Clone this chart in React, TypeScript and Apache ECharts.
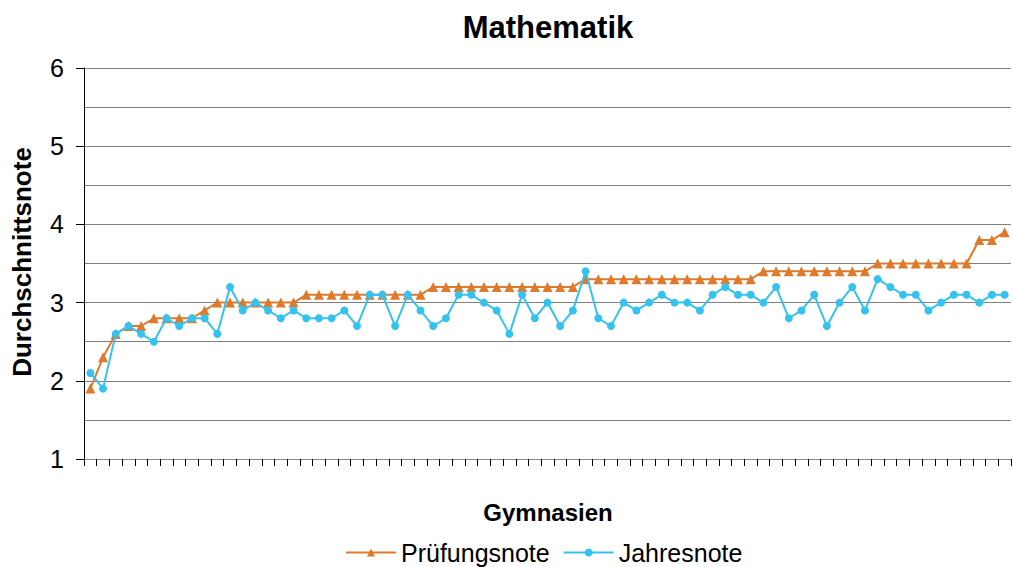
import React, { useEffect, useRef } from "react";
import * as echarts from "echarts";

const categories: string[] = Array.from({ length: 73 }, (_, i) => `G${i + 1}`);

const pruefungsnote: number[] = [
  1.9, 2.3, 2.6, 2.7, 2.7, 2.8, 2.8, 2.8, 2.8, 2.9, 3.0, 3.0, 3.0, 3.0, 3.0, 3.0, 3.0, 3.1, 3.1,
  3.1, 3.1, 3.1, 3.1, 3.1, 3.1, 3.1, 3.1,
  3.2, 3.2, 3.2, 3.2, 3.2, 3.2, 3.2, 3.2, 3.2, 3.2, 3.2, 3.2,
  3.3, 3.3, 3.3, 3.3, 3.3, 3.3, 3.3, 3.3, 3.3, 3.3, 3.3, 3.3, 3.3, 3.3,
  3.4, 3.4, 3.4, 3.4, 3.4, 3.4, 3.4, 3.4, 3.4,
  3.5, 3.5, 3.5, 3.5, 3.5, 3.5, 3.5, 3.5,
  3.8, 3.8, 3.9,
];

const jahresnote: number[] = [
  2.1, 1.9, 2.6, 2.7, 2.6, 2.5, 2.8, 2.7, 2.8, 2.8, 2.6, 3.2, 2.9, 3.0, 2.9, 2.8, 2.9, 2.8, 2.8,
  2.8, 2.9, 2.7, 3.1, 3.1, 2.7, 3.1, 2.9, 2.7, 2.8, 3.1, 3.1, 3.0, 2.9, 2.6, 3.1, 2.8,
  3.0, 2.7, 2.9, 3.4, 2.8, 2.7, 3.0, 2.9, 3.0, 3.1, 3.0, 3.0, 2.9, 3.1, 3.2, 3.1, 3.1, 3.0,
  3.2, 2.8, 2.9, 3.1, 2.7, 3.0, 3.2, 2.9, 3.3, 3.2, 3.1, 3.1, 2.9, 3.0, 3.1, 3.1, 3.0, 3.1, 3.1,
];

const yTicks: number[] = [1, 2, 3, 4, 5, 6];

const FONT = "Liberation Sans, Arial, sans-serif";
const ORANGE = "#DD7A2C";
const BLUE = "#35C2EE";

export default function App() {
  const ref = useRef<HTMLDivElement>(null);

  useEffect(() => {
    if (!ref.current) return;
    const chart = echarts.init(ref.current, undefined, { renderer: "svg" });
    chart.setOption({
      animation: false,
      backgroundColor: "#ffffff",
      textStyle: { fontFamily: FONT },
      grid: { left: 84, right: 2, top: 68, bottom: 108, containLabel: false },
      graphic: [
        {
          type: "text",
          x: 548,
          y: 27,
          style: {
            text: "Mathematik",
            font: `bold 31px ${FONT}`,
            fill: "#000",
            align: "center",
            verticalAlign: "middle",
          },
        },
        {
          type: "text",
          x: 548,
          y: 512,
          style: {
            text: "Gymnasien",
            font: `bold 24px ${FONT}`,
            fill: "#000",
            align: "center",
            verticalAlign: "middle",
          },
        },
        {
          type: "text",
          x: 22,
          y: 262,
          rotation: Math.PI / 2,
          style: {
            text: "Durchschnittsnote",
            font: `bold 26px ${FONT}`,
            fill: "#000",
            align: "center",
            verticalAlign: "middle",
          },
        },
      ],
      legend: {
        left: 345,
        top: 540,
        padding: 0,
        itemWidth: 50,
        itemHeight: 10,
        itemGap: 13,
        textStyle: { fontFamily: FONT, fontSize: 25, color: "#000" },
        data: ["Prüfungsnote", "Jahresnote"],
      },
      xAxis: {
        type: "category",
        data: categories,
        boundaryGap: true,
        axisLine: { show: true, lineStyle: { color: "#888", width: 1 } },
        axisTick: { show: true, length: 7, interval: 0, lineStyle: { color: "#000" } },
        axisLabel: { show: false },
        splitLine: { show: false },
      },
      yAxis: {
        type: "value",
        min: yTicks[0],
        max: yTicks[yTicks.length - 1],
        interval: 1,
        minorTick: { show: false, splitNumber: 2 },
        minorSplitLine: { show: true, lineStyle: { color: "#808080", width: 1 } },
        axisLine: { show: true, lineStyle: { color: "#000", width: 1 } },
        axisTick: { show: true, inside: false, length: 8, lineStyle: { color: "#000" } },
        axisLabel: {
          fontFamily: FONT,
          fontSize: 25,
          color: "#000",
          margin: 20,
        },
        splitLine: { show: true, lineStyle: { color: "#808080", width: 1 } },
      },
      series: [
        {
          name: "Prüfungsnote",
          type: "line",
          data: pruefungsnote,
          symbol: "triangle",
          symbolSize: 10,
          showAllSymbol: true,
          itemStyle: { color: ORANGE },
          lineStyle: { color: ORANGE, width: 2 },
          z: 2,
        },
        {
          name: "Jahresnote",
          type: "line",
          data: jahresnote,
          symbol: "circle",
          symbolSize: 8,
          showAllSymbol: true,
          itemStyle: { color: BLUE },
          lineStyle: { color: BLUE, width: 2 },
          z: 3,
        },
      ],
    });
    return () => chart.dispose();
  }, []);

  return (
    <div
      ref={ref}
      style={{ position: "fixed", left: 0, top: 0, width: 1013, height: 567 }}
    />
  );
}
